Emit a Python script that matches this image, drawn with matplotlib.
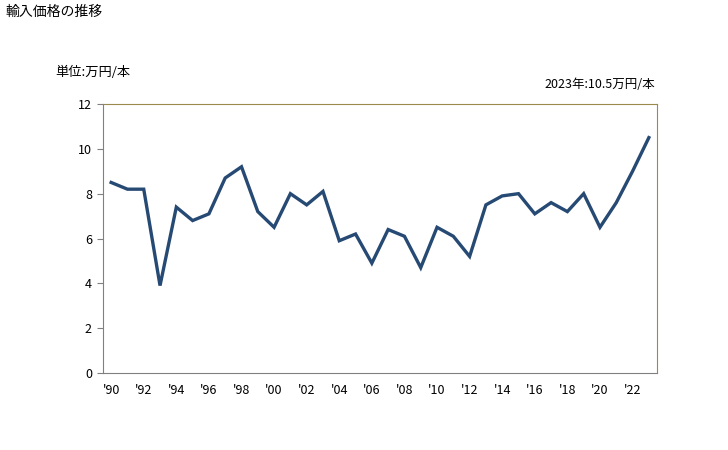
import matplotlib
matplotlib.use('Agg')
import matplotlib.pyplot as plt

plt.rcParams['font.family'] = ['Noto Sans CJK JP', 'DejaVu Sans']

years = list(range(1990, 2024))
price = [8.5, 8.2, 8.2, 3.9, 7.4, 6.8, 7.1, 8.7, 9.2, 7.2,
         6.5, 8.0, 7.5, 8.1, 5.9, 6.2, 4.9, 6.4, 6.1, 4.7,
         6.5, 6.1, 5.2, 7.5, 7.9, 8.0, 7.1, 7.6, 7.2, 8.0,
         6.5, 7.6, 9.0, 10.5]
xtick_years = list(range(1990, 2024, 2))
xtick_labels = ["'%02d" % (y % 100) for y in xtick_years]
yticks = [0, 2, 4, 6, 8, 10, 12]

fig = plt.figure(figsize=(7.28, 4.5), dpi=100)
ax = fig.add_axes([103/728, 1 - 373/450, (657-103)/728, (373-104)/450])

ax.plot(years, price, color='#264a73', linewidth=2.4, solid_joinstyle='miter')

ax.set_xlim(1989.5, 2023.5)
ax.set_ylim(0, 12)
ax.set_xticks(xtick_years)
ax.set_xticklabels(xtick_labels)
ax.set_yticks(yticks)
ax.tick_params(axis='x', length=0, labelsize=9, pad=8)
ax.tick_params(axis='y', length=4, color='#808080', labelsize=9, pad=4)

ax.spines['left'].set_color('#808080')
ax.spines['bottom'].set_color('#808080')
ax.spines['top'].set_color('#9a8a4e')
ax.spines['right'].set_color('#9a8a4e')

fig.text(5/728, 1 - 12/450, '輸入価格の推移', fontsize=10, va='center', ha='left')
fig.text(55/728, 1 - 72/450, '単位:万円/本', fontsize=9.5, va='center', ha='left')
fig.text(655/728, 1 - 85/450, '2023年:10.5万円/本', fontsize=9, va='center', ha='right')

fig.savefig('out.png', dpi=100)
